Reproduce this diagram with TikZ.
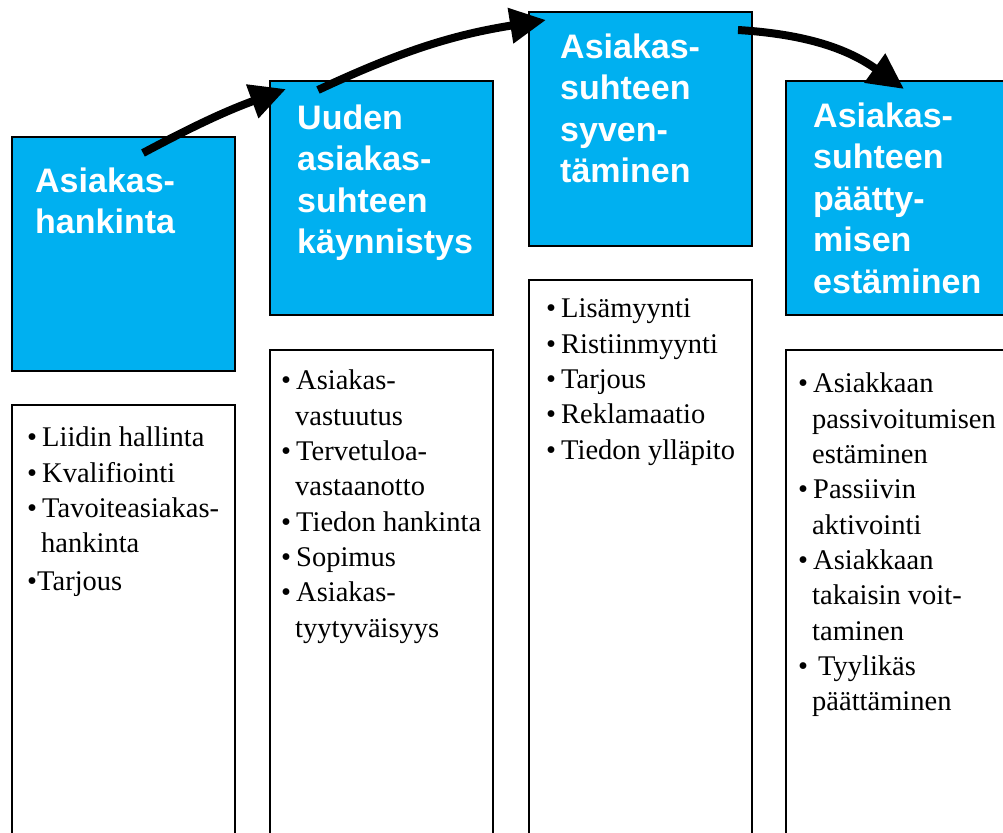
\documentclass[tikz,border=0pt]{standalone}
\usepackage{fontspec}
\setmainfont{Liberation Serif}
\setsansfont{Liberation Sans}
\usepackage{xcolor}
\usetikzlibrary{arrows.meta, positioning}

\definecolor{phaseblue}{RGB}{0,176,240}
\newcommand{\bul}{\makebox[15pt][l]{\textbullet}}
\newcommand{\cnt}{\hspace*{14pt}}

\begin{document}
\begin{tikzpicture}[
    x=1pt, y=-1pt,
    phase/.style={draw, line width=1.6pt, fill=phaseblue, anchor=north west, inner sep=0pt, minimum width=223pt, minimum height=234pt},
    taskbox/.style={draw, line width=1.6pt, fill=white, anchor=north west, inner sep=0pt, minimum width=223pt, minimum height=600pt},
    title/.style={inner sep=0pt, align=left, text=white, font=\sffamily\bfseries\fontsize{34}{41.5}\selectfont},
    tasks/.style={inner sep=0pt, align=left, font=\fontsize{28.5}{35.3}\selectfont},
    flow/.style={draw, line width=8pt, -{Triangle[length=36pt, width=34pt]}}
]
    \useasboundingbox (0,0) rectangle (1003,832);

    % phase headers
    \node[phase] (p1) at (11,136) {};
    \node[phase] (p2) at (269,80) {};
    \node[phase] (p3) at (528,11) {};
    \node[phase, minimum width=240pt] (p4) at (785,80) {};

    \node[title, below right=27pt and 24pt of p1.north west] (t1) {\strut Asiakas-\\hankinta};
    \node[title, below right=20pt and 28pt of p2.north west] (t2) {\strut Uuden\\asiakas-\\suhteen\\käynnistys};
    \node[title, below right=18pt and 32pt of p3.north west] (t3) {\strut Asiakas-\\suhteen\\syven-\\täminen};
    \node[title, below right=18pt and 28pt of p4.north west] (t4) {\strut Asiakas-\\suhteen\\päätty-\\misen\\estäminen};

    % task lists
    \node[taskbox] (b1) at (11,404) {};
    \node[taskbox] (b2) at (269,349) {};
    \node[taskbox] (b3) at (528,279) {};
    \node[taskbox, minimum width=240pt] (b4) at (785,349) {};

    \node[tasks, below right=18pt and 16pt of b1.north west] (l1) {\strut\bul Liidin hallinta\\
        \bul Kvalifiointi\\ \bul Tavoiteasiakas-\\ \cnt hankinta\\[2.7pt] \textbullet Tarjous};
    \node[tasks, below right=16pt and 12pt of b2.north west] (l2) {\strut\bul Asiakas-\\ \cnt vastuutus\\
        \bul Tervetuloa-\\ \cnt vastaanotto\\ \bul Tiedon hankinta\\ \bul Sopimus\\
        \bul Asiakas-\\ \cnt tyytyväisyys};
    \node[tasks, below right=14pt and 18pt of b3.north west] (l3) {\strut\bul Lisämyynti\\
        \bul Ristiinmyynti\\ \bul Tarjous\\ \bul Reklamaatio\\ \bul Tiedon ylläpito};
    \node[tasks, below right=19pt and 13pt of b4.north west] (l4) {\strut\bul Asiakkaan\\
        \cnt passivoitumisen\\ \cnt estäminen\\ \bul Passiivin\\ \cnt aktivointi\\
        \bul Asiakkaan\\ \cnt takaisin voit-\\ \cnt taminen\\ \bul\hspace{5pt}Tyylikäs\\ \cnt päättäminen};

    % flow arrows
    \coordinate (s1) at (143,153);
    \coordinate (e1) at (286,89);
    \coordinate (s2) at (318,90);
    \coordinate (e2) at (546,20);
    \coordinate (s3) at (738,30);
    \coordinate (e3) at (904,89);

    \draw[flow] (s1) to[bend left=4] (e1);
    \draw[flow] (s2) to[bend left=8] (e2);
    \draw[flow] (s3) to[bend left=16] (e3);
\end{tikzpicture}
\end{document}
